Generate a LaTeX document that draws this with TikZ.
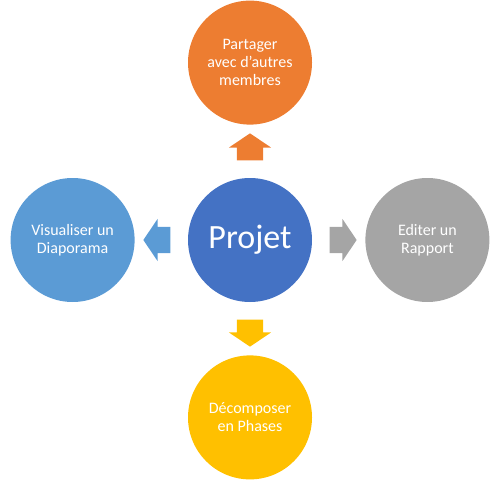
\documentclass[tikz,border=0pt]{standalone}
\usepackage{fontspec}
\setmainfont{Carlito}
\usepackage{xcolor}
\usepackage{tikz}
\usetikzlibrary{calc,positioning,shapes.arrows}
\definecolor{orangec}{HTML}{ED7D31}
\definecolor{mainc}{HTML}{4472C4}
\definecolor{skyc}{HTML}{5B9BD5}
\definecolor{grayc}{HTML}{A5A5A5}
\definecolor{goldc}{HTML}{FFC000}
\tikzset{
  bulle/.style={circle,minimum size=124pt,inner sep=0pt,text=white,align=center,font=\fontsize{16}{18}\selectfont},
  fleche/.style={single arrow,minimum height=27pt,inner xsep=0pt,inner ysep=13pt,
    single arrow head extend=8pt,single arrow tip angle=112}
}
\begin{document}
\begin{tikzpicture}[node distance=53pt]
\useasboundingbox (0,0) rectangle (500pt,-481pt);
\node[bulle,fill=mainc,font=\fontsize{34}{40}\selectfont] (projet) at (250pt,-240pt) {Projet};
\node[bulle,fill=orangec,above=of projet] (partage) {Partager\\avec d’autres\\membres};
\node[bulle,fill=skyc,left=of projet] (diapo) {Visualiser un\\Diaporama};
\node[bulle,fill=grayc,right=of projet] (rapport) {Editer un\\Rapport};
\node[bulle,fill=goldc,below=of projet] (phases) {Décomposer\\en Phases};
% fleches
\node[fleche,fill=orangec,rotate=90] (f1) at ($(projet)!0.5!(partage)$) {};
\node[fleche,fill=skyc,rotate=180] (f2) at ($(projet)!0.5!(diapo)$) {};
\node[fleche,fill=grayc] (f3) at ($(projet)!0.5!(rapport)$) {};
\node[fleche,fill=goldc,rotate=270] (f4) at ($(projet)!0.5!(phases)$) {};
\end{tikzpicture}
\end{document}
